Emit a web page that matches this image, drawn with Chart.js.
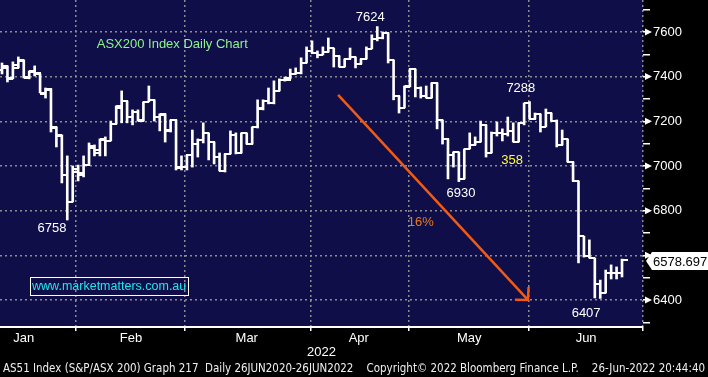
<!DOCTYPE html>
<html>
<head>
  <title>ASX200 Index Daily Chart</title>
  <script src="https://cdn.jsdelivr.net/npm/chart.js@4.4.0/dist/chart.umd.min.js"></script>
  <style>
    body { margin: 0; background: #000; }
  </style>
</head>
<body>
  <canvas id="asxChart" width="708" height="377"></canvas>
  <script>
    // daily OHLC for AS51, mid Jan -> 24 Jun 2022
    var opens = [7430, 7440, 7395, 7450, 7470, 7400, 7425, 7410, 7320, 7340, 7170, 7135, 6960, 6840, 6975, 6960, 7005, 7080, 7060, 7115,
      7112, 7190, 7260, 7290, 7220, 7240, 7205, 7287, 7296, 7219, 7230, 7160, 7206, 6995, 6995, 7049, 7098, 7116, 7148, 7107,
      7040, 6978, 7054, 7139, 7058, 7148, 7098, 7175, 7260, 7290, 7280, 7336, 7385, 7395, 7412, 7414, 7461, 7515, 7505, 7497,
      7510, 7528, 7493, 7443, 7479, 7488, 7457, 7479, 7524, 7569, 7573, 7596, 7475, 7313, 7260, 7354, 7434, 7349, 7313, 7304,
      7372, 7206, 7121, 7049, 7063, 6942, 7076, 7094, 7107, 7184, 7058, 7148, 7148, 7145, 7157, 7107, 7193, 7282, 7210, 7233,
      7175, 7237, 7201, 7094, 7121, 7018, 6933, 6686, 6597, 6588, 6472, 6431, 6521, 6521, 6521];
    var highs = [7461, 7448, 7466, 7488, 7475, 7425, 7448, 7412, 7349, 7345, 7175, 7139, 7045, 7000, 7004, 7045, 7103, 7094, 7121, 7130,
      7201, 7269, 7336, 7291, 7251, 7251, 7287, 7358, 7296, 7233, 7233, 7206, 7206, 7045, 7049, 7161, 7121, 7193, 7148, 7107,
      7058, 7054, 7157, 7148, 7148, 7148, 7175, 7296, 7296, 7349, 7381, 7390, 7398, 7434, 7439, 7484, 7533, 7560, 7515, 7533,
      7573, 7528, 7493, 7479, 7528, 7488, 7479, 7533, 7587, 7624, 7600, 7596, 7475, 7313, 7358, 7434, 7434, 7354, 7358, 7372,
      7372, 7206, 7121, 7063, 7063, 7076, 7148, 7130, 7201, 7184, 7152, 7197, 7166, 7219, 7193, 7193, 7282, 7288, 7237, 7233,
      7255, 7237, 7206, 7161, 7121, 7018, 6933, 6686, 6669, 6588, 6489, 6534, 6557, 6548, 6583];
    var lows = [7412, 7376, 7390, 7439, 7394, 7390, 7403, 7327, 7304, 7152, 7085, 6924, 6758, 6839, 6933, 6951, 7004, 7045, 7045, 7045,
      7112, 7188, 7193, 7193, 7184, 7201, 7201, 7287, 7201, 7157, 7107, 7152, 6982, 6982, 6982, 6995, 7040, 7103, 7027, 7009,
      6978, 6973, 7054, 7054, 7058, 7098, 7098, 7170, 7251, 7278, 7278, 7336, 7380, 7390, 7410, 7412, 7461, 7505, 7484, 7497,
      7510, 7443, 7443, 7443, 7479, 7439, 7457, 7479, 7524, 7560, 7569, 7461, 7296, 7237, 7260, 7354, 7309, 7304, 7304, 7304,
      7166, 7098, 6942, 6995, 6930, 6942, 7076, 7094, 7107, 7040, 7058, 7134, 7112, 7134, 7107, 7107, 7184, 7210, 7210, 7152,
      7175, 7201, 7085, 7094, 7018, 6933, 6566, 6592, 6588, 6409, 6407, 6431, 6494, 6494, 6503];
    var closes = [7448, 7390, 7439, 7475, 7394, 7420, 7416, 7327, 7345, 7175, 7139, 6960, 6839, 6987, 6969, 7004, 7090, 7072, 7121, 7112,
      7188, 7269, 7291, 7219, 7242, 7201, 7287, 7296, 7219, 7233, 7157, 7206, 6991, 6995, 7049, 7098, 7116, 7148, 7107, 7040,
      6978, 7054, 7139, 7058, 7148, 7098, 7175, 7255, 7290, 7280, 7336, 7385, 7385, 7412, 7416, 7461, 7515, 7505, 7497, 7510,
      7528, 7493, 7443, 7479, 7488, 7457, 7479, 7524, 7569, 7573, 7596, 7475, 7313, 7260, 7358, 7434, 7349, 7313, 7304, 7372,
      7206, 7121, 7049, 7063, 6942, 7076, 7094, 7107, 7184, 7058, 7148, 7148, 7145, 7157, 7107, 7193, 7282, 7210, 7233, 7175,
      7237, 7201, 7094, 7121, 7018, 6933, 6686, 6597, 6588, 6472, 6431, 6521, 6521, 6521, 6579];
    var lastPrice = 6578.697;

    // x axis is the session number (0 = first bar on screen)
    var xMin = -0.37, xMax = 117.86;
    var monthNames = ['Jan', 'Feb', 'Mar', 'Apr', 'May', 'Jun'];
    var monthMid = [4.0, 23.7, 45.0, 65.6, 85.9, 107.4];
    var monthStarts = [13.6, 33.6, 56.8, 74.8, 96.9];
    var yearLabel = '2022';
    var yTicks = [6300, 6400, 6500, 6600, 6700, 6800, 6900, 7000, 7100, 7200, 7300, 7400, 7500, 7600, 7700];

    // annotations, placed in (session, index level)
    var noteText = ['7624', '6758', '6930', '7288', '6407', '358', '16%'];
    var noteX = [67.7, 9.2, 84.4, 95.4, 107.4, 93.8, 77.0];
    var noteY = [7663, 6722, 6879, 7345, 6342, 7027, 6749];
    var noteColor = ['#ffffff', '#ffffff', '#ffffff', '#ffffff', '#ffffff', '#ffff33', '#e8791e'];
    var titleText = 'ASX200 Index Daily Chart';
    var titlePos = [31.3, 7542];
    var webText = 'www.marketmatters.com.au';
    var webPos = [19.7, 6463];
    var arrowX = [61.8, 96.7];
    var arrowY = [7318, 6400];
    var footer = 'AS51 Index (S&P/ASX 200) Graph 217  Daily 26JUN2020-26JUN2022    Copyright\u00a9 2022 Bloomberg Finance L.P.    26-Jun-2022 20:44:40';

    var FONT = "'Liberation Sans', Arial, sans-serif";
    var NAVY = '#100e48';
    var GRID = '#8c8c8c';
    var ORANGE = '#f05a14';

    function tickImage(side) {
      var c = document.createElement('canvas');
      c.width = 12; c.height = 2;
      var g = c.getContext('2d');
      g.fillStyle = '#fff';
      g.fillRect(side === 'left' ? 0 : 6, 0, 6, 2);
      return c;
    }
    var openTick = tickImage('left');
    var closeTick = tickImage('right');

    var rangeData = [], openData = [], closeData = [];
    for (var i = 0; i < opens.length; i++) {
      rangeData.push({ x: i, y: [lows[i], highs[i]] });
      openData.push({ x: i, y: opens[i] });
      closeData.push({ x: i, y: closes[i] });
    }
    var arrowData = [{ x: arrowX[0], y: arrowY[0] }, { x: arrowX[1], y: arrowY[1] }];

    function noPadding(axis) {
      axis.paddingLeft = 0;
      axis.paddingRight = 0;
      axis.paddingTop = 0;
      axis.paddingBottom = 0;
    }

    var backdrop = {
      id: 'backdrop',
      beforeDraw: function(chart) {
        var c = chart.ctx, a = chart.chartArea;
        c.save();
        c.fillStyle = '#000';
        c.fillRect(0, 0, chart.width, chart.height);
        c.fillStyle = NAVY;
        c.fillRect(a.left, a.top, a.right - a.left, a.bottom - a.top);
        c.restore();
      }
    };

    var notes = {
      id: 'notes',
      afterDatasetsDraw: function(chart) {
        var c = chart.ctx, xs = chart.scales.x, ys = chart.scales.y;
        c.save();
        c.textAlign = 'center';
        c.textBaseline = 'middle';
        c.font = '13px ' + FONT;
        for (var k = 0; k < noteText.length; k++) {
          c.fillStyle = noteColor[k];
          c.fillText(noteText[k], xs.getPixelForValue(noteX[k]), ys.getPixelForValue(noteY[k]));
        }
        c.fillStyle = '#8cf58c';
        c.fillText(titleText, xs.getPixelForValue(titlePos[0]), ys.getPixelForValue(titlePos[1]));

        var wx = xs.getPixelForValue(webPos[0]), wy = ys.getPixelForValue(webPos[1]);
        c.font = '12.5px ' + FONT;
        var w = c.measureText(webText).width + 4;
        c.strokeStyle = '#fff';
        c.lineWidth = 1;
        c.strokeRect(Math.round(wx - w / 2) + 0.5, Math.round(wy - 9) + 0.5, Math.round(w), 18);
        c.fillStyle = '#1ee6f0';
        c.fillText(webText, wx, wy + 1);

        // arrow head
        var x0 = xs.getPixelForValue(arrowX[0]), y0 = ys.getPixelForValue(arrowY[0]);
        var x1 = xs.getPixelForValue(arrowX[1]), y1 = ys.getPixelForValue(arrowY[1]);
        var ang = Math.atan2(y1 - y0, x1 - x0) + Math.PI;
        c.strokeStyle = ORANGE;
        c.lineWidth = 2.5;
        c.beginPath();
        c.moveTo(x1 + 13 * Math.cos(ang - 0.8), y1 + 13 * Math.sin(ang - 0.8));
        c.lineTo(x1, y1);
        c.lineTo(x1 + 13 * Math.cos(ang + 0.8), y1 + 13 * Math.sin(ang + 0.8));
        c.stroke();
        c.restore();
      },
      afterDraw: function(chart) {
        var c = chart.ctx, a = chart.chartArea, ys = chart.scales.y;
        c.save();
        // little markers next to the labelled levels
        c.fillStyle = '#fff';
        yTicks.forEach(function(v) {
          if (v % 200 !== 0) return;
          var p = ys.getPixelForValue(v);
          c.beginPath();
          c.moveTo(a.right + 2, p - 3.5);
          c.lineTo(a.right + 9, p);
          c.lineTo(a.right + 2, p + 3.5);
          c.closePath();
          c.fill();
        });
        // last price tag
        var py = Math.round(ys.getPixelForValue(lastPrice)) + 1;
        c.beginPath();
        c.moveTo(a.right + 3, py);
        c.lineTo(a.right + 9, py - 9);
        c.lineTo(chart.width, py - 9);
        c.lineTo(chart.width, py + 9);
        c.lineTo(a.right + 9, py + 9);
        c.closePath();
        c.fill();
        c.fillStyle = '#000';
        c.font = '13px ' + FONT;
        c.textBaseline = 'middle';
        c.textAlign = 'left';
        c.fillText(lastPrice.toFixed(3), a.right + 10, py + 1);
        // footer line
        c.fillStyle = '#f0f0f0';
        c.font = "12px 'Liberation Sans Narrow', 'DejaVu Sans Condensed', " + FONT;
        var fw = c.measureText(footer).width;
        c.translate(3, 369);
        c.scale(702 / fw, 1);
        c.fillText(footer, 0, 0);
        c.restore();
      }
    };

    var ctx = document.getElementById('asxChart').getContext('2d');
    var asxChart = new Chart(ctx, {
      type: 'bar',
      data: {
        datasets: [{
          type: 'line',
          data: arrowData,
          borderColor: ORANGE,
          borderWidth: 2.5,
          pointRadius: 0,
          order: 0
        }, {
          type: 'scatter',
          data: openData,
          pointStyle: openTick,
          pointRadius: 3,
          order: 1
        }, {
          type: 'scatter',
          data: closeData,
          pointStyle: closeTick,
          pointRadius: 3,
          order: 1
        }, {
          type: 'bar',
          data: rangeData,
          backgroundColor: '#ffffff',
          borderWidth: 0,
          barThickness: 2,
          grouped: false,
          order: 2
        }]
      },
      options: {
        responsive: false,
        animation: false,
        events: [],
        layout: { autoPadding: false, padding: { left: 0, top: 0, right: 0, bottom: 14 } },
        plugins: { legend: { display: false }, tooltip: { enabled: false } },
        scales: {
          x: {
            type: 'linear',
            offset: false,
            min: xMin,
            max: xMax,
            afterBuildTicks: function(axis) {
              var vals = monthStarts.concat(monthMid, [xMax]).sort(function(a, b) { return a - b; });
              axis.ticks = vals.map(function(v) { return { value: v }; });
            },
            afterFit: function(axis) { axis.height = 36; noPadding(axis); },
            ticks: {
              autoSkip: false,
              maxRotation: 0,
              color: '#ffffff',
              padding: 0,
              font: { family: FONT, size: 13 },
              callback: function(v) {
                var k = monthMid.indexOf(v);
                return k >= 0 ? monthNames[k] : '';
              }
            },
            grid: {
              offset: false,
              lineWidth: 1.5,
              tickLength: 4,
              color: function(c) {
                var v = c.tick && c.tick.value;
                return (monthStarts.indexOf(v) >= 0 || v === xMax) ? GRID : 'rgba(0,0,0,0)';
              },
              tickColor: function(c) {
                var v = c.tick && c.tick.value;
                return (monthStarts.indexOf(v) >= 0 || v === xMax) ? '#ffffff' : 'rgba(0,0,0,0)';
              }
            },
            border: { color: '#ffffff', width: 2, dash: [2, 3] },
            title: {
              display: true,
              text: yearLabel,
              color: '#ffffff',
              font: { family: FONT, size: 13 },
              padding: { top: 0, bottom: 3 }
            }
          },
          y: {
            position: 'right',
            min: 6279,
            max: 7743,
            afterBuildTicks: function(axis) {
              axis.ticks = yTicks.map(function(v) { return { value: v }; });
            },
            afterFit: function(axis) { axis.width = 65; noPadding(axis); },
            ticks: {
              color: '#ffffff',
              padding: 3,
              font: { family: FONT, size: 13 },
              // the last-price tag sits on top of the nearby level, so that one is left blank
              callback: function(v) {
                return (v % 200 === 0 && Math.abs(v - lastPrice) > 50) ? String(v) : '';
              }
            },
            grid: {
              lineWidth: 1.5,
              tickLength: 7,
              tickColor: '#ffffff',
              color: function(c) {
                return (c.tick && c.tick.value % 200 === 0) ? GRID : 'rgba(0,0,0,0)';
              }
            },
            border: { display: false, dash: [2, 3] }
          }
        }
      },
      plugins: [backdrop, notes]
    });
  </script>
</body>
</html>
